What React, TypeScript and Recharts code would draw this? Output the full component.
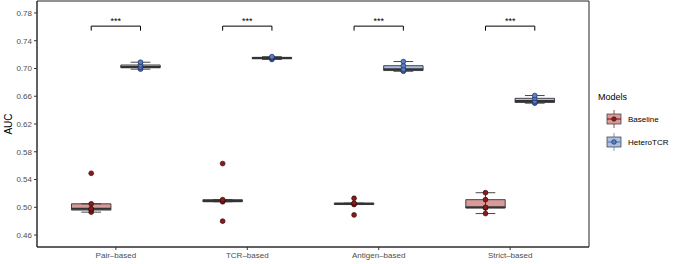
import React from 'react';
import { ComposedChart, XAxis, YAxis, Scatter, ReferenceArea, ReferenceLine } from 'recharts';

const categories = ['Pair–based', 'TCR–based', 'Antigen–based', 'Strict–based'];

// AUC of each run, one list per category
const baselineAuc = [
  [0.493, 0.496, 0.498, 0.505, 0.549],
  [0.48, 0.508, 0.509, 0.511, 0.563],
  [0.489, 0.504, 0.505, 0.506, 0.513],
  [0.491, 0.499, 0.5, 0.511, 0.521],
];
const heteroAuc = [
  [0.699, 0.701, 0.702, 0.705, 0.709],
  [0.713, 0.714, 0.715, 0.716, 0.717],
  [0.696, 0.697, 0.699, 0.704, 0.71],
  [0.65, 0.651, 0.653, 0.657, 0.661],
];
const sigLabels = ['***', '***', '***', '***'];
const yTicks = [0.46, 0.5, 0.54, 0.58, 0.62, 0.66, 0.7, 0.74, 0.78];

const Y_DOMAIN: [number, number] = [0.4428, 0.7972];
const X_DOMAIN: [number, number] = [0.4, 4.6];
const DODGE = 0.1875;
const BOX_HALF = 0.15;
const CAP_HALF = 0.075;
const BRACKET_Y = 0.761;
const BRACKET_LEG = 0.7545;

const FONT = '"Liberation Sans", Arial, Helvetica, sans-serif';
const BASE_FILL = '#d99a9a';
const BASE_DOT = '#8b1a1a';
const HET_FILL = '#a9bfe4';
const HET_DOT = '#5b7fc2';
const LINE = '#333333';

const quantile = (sorted: number[], p: number) => {
  const pos = (sorted.length - 1) * p;
  const lo = Math.floor(pos);
  const hi = Math.ceil(pos);
  return sorted[lo] + (sorted[hi] - sorted[lo]) * (pos - lo);
};

const boxStats = (vals: number[]) => {
  const s = [...vals].sort((a, b) => a - b);
  const q1 = quantile(s, 0.25);
  const med = quantile(s, 0.5);
  const q3 = quantile(s, 0.75);
  const iqr = q3 - q1;
  const lo = Math.min(...s.filter((v) => v >= q1 - 1.5 * iqr));
  const hi = Math.max(...s.filter((v) => v <= q3 + 1.5 * iqr));
  return { q1, med, q3, lo, hi };
};

const groups = [
  { name: 'Baseline', values: baselineAuc, offset: -DODGE, fill: BASE_FILL, dot: BASE_DOT, dotStroke: '#3a0808' },
  { name: 'HeteroTCR', values: heteroAuc, offset: DODGE, fill: HET_FILL, dot: HET_DOT, dotStroke: '#1d2c5c' },
];

const pointsOf = (values: number[][], offset: number) =>
  values.flatMap((vals, i) => vals.map((v) => ({ x: i + 1 + offset, y: v })));

const dotShape = (fill: string, stroke: string) => (props: any) =>
  <circle cx={props.cx} cy={props.cy} r={2.4} fill={fill} stroke={stroke} strokeWidth={0.7} />;

function renderBoxes() {
  const out: React.ReactNode[] = [];
  groups.forEach((g) => {
    g.values.forEach((vals, i) => {
      const c = i + 1 + g.offset;
      const st = boxStats(vals);
      const k = `${g.name}-${i}`;
      out.push(
        <ReferenceLine key={`w-${k}`} segment={[{ x: c, y: st.lo }, { x: c, y: st.hi }]} stroke={LINE} strokeWidth={0.9} />,
        <ReferenceLine key={`cl-${k}`} segment={[{ x: c - CAP_HALF, y: st.lo }, { x: c + CAP_HALF, y: st.lo }]} stroke={LINE} strokeWidth={0.9} />,
        <ReferenceLine key={`ch-${k}`} segment={[{ x: c - CAP_HALF, y: st.hi }, { x: c + CAP_HALF, y: st.hi }]} stroke={LINE} strokeWidth={0.9} />,
        <ReferenceArea key={`b-${k}`} x1={c - BOX_HALF} x2={c + BOX_HALF} y1={st.q1} y2={st.q3} fill={g.fill} fillOpacity={1} stroke={LINE} strokeWidth={0.9} ifOverflow="visible" />,
        <ReferenceLine key={`m-${k}`} segment={[{ x: c - BOX_HALF, y: st.med }, { x: c + BOX_HALF, y: st.med }]} stroke={LINE} strokeWidth={2} />,
      );
    });
  });
  return out;
}

function renderBrackets() {
  return categories.flatMap((_, i) => {
    const a = i + 1 - DODGE;
    const b = i + 1 + DODGE;
    return [
      <ReferenceLine
        key={`s-${i}`}
        segment={[{ x: a, y: BRACKET_Y }, { x: b, y: BRACKET_Y }]}
        stroke="#000"
        strokeWidth={1}
        label={{ value: sigLabels[i], position: 'top', offset: 2, fontSize: 9, fill: '#000', fontFamily: FONT }}
      />,
      <ReferenceLine key={`sl-${i}`} segment={[{ x: a, y: BRACKET_Y }, { x: a, y: BRACKET_LEG }]} stroke="#000" strokeWidth={1} />,
      <ReferenceLine key={`sr-${i}`} segment={[{ x: b, y: BRACKET_Y }, { x: b, y: BRACKET_LEG }]} stroke="#000" strokeWidth={1} />,
    ];
  });
}

function LegendKey({ fill, dot, y }: { fill: string; dot: string; y: number }) {
  return (
    <g>
      <line x1={18} x2={18} y1={y - 9} y2={y + 9} stroke={dot} strokeWidth={0.8} />
      <rect x={11} y={y - 5} width={14} height={10} fill={fill} stroke={LINE} strokeWidth={0.7} />
      <line x1={11} x2={25} y1={y} y2={y} stroke={dot} strokeWidth={1.2} />
      <circle cx={18} cy={y} r={2.3} fill={dot} stroke="#222" strokeWidth={0.6} />
    </g>
  );
}

export default function App() {
  return (
    <div style={{ position: 'absolute', left: 0, top: 0, width: 683, height: 264, background: '#fff', fontFamily: FONT }}>
      <ComposedChart width={683} height={264} margin={{ top: 1, right: 94, bottom: 0, left: 0 }} style={{ fontFamily: FONT }}>
        <XAxis
          type="number"
          dataKey="x"
          domain={X_DOMAIN}
          ticks={[1, 2, 3, 4]}
          tickFormatter={(v: number) => categories[Math.round(v) - 1]}
          allowDataOverflow
          interval={0}
          height={17}
          tickSize={3}
          axisLine={{ stroke: LINE }}
          tickLine={{ stroke: LINE }}
          tick={{ fontSize: 8, fill: '#4d4d4d' }}
        />
        <YAxis
          type="number"
          dataKey="y"
          domain={Y_DOMAIN}
          ticks={yTicks}
          allowDataOverflow
          width={37}
          tickSize={3}
          tickFormatter={(v: number) => v.toFixed(2)}
          axisLine={{ stroke: LINE }}
          tickLine={{ stroke: LINE }}
          tick={{ fontSize: 8, fill: '#4d4d4d' }}
          label={{
            content: (p: any) => {
              const vb = p.viewBox;
              const cy = vb.y + vb.height / 2;
              return (
                <text x={12} y={cy} transform={`rotate(-90 12 ${cy})`} textAnchor="middle" fontSize={10} fill="#000" fontFamily={FONT}>
                  AUC
                </text>
              );
            },
          }}
        />
        <ReferenceArea x1={X_DOMAIN[0]} x2={X_DOMAIN[1]} y1={Y_DOMAIN[0]} y2={Y_DOMAIN[1]} fill="none" stroke="#222" strokeWidth={1} ifOverflow="visible" />
        {renderBoxes()}
        {renderBrackets()}
        {groups.map((g) => (
          <Scatter
            key={g.name}
            name={g.name}
            data={pointsOf(g.values, g.offset)}
            isAnimationActive={false}
            shape={dotShape(g.dot, g.dotStroke)}
          />
        ))}
      </ComposedChart>
      <svg style={{ position: 'absolute', left: 596, top: 86 }} width={87} height={70}>
        <text x={2} y={14} fontSize={9} fill="#000" fontFamily={FONT}>Models</text>
        <LegendKey fill={BASE_FILL} dot={BASE_DOT} y={33} />
        <text x={32} y={36} fontSize={8} fill="#000" fontFamily={FONT}>Baseline</text>
        <LegendKey fill={HET_FILL} dot={HET_DOT} y={56} />
        <text x={32} y={59} fontSize={8} fill="#000" fontFamily={FONT}>HeteroTCR</text>
      </svg>
    </div>
  );
}
